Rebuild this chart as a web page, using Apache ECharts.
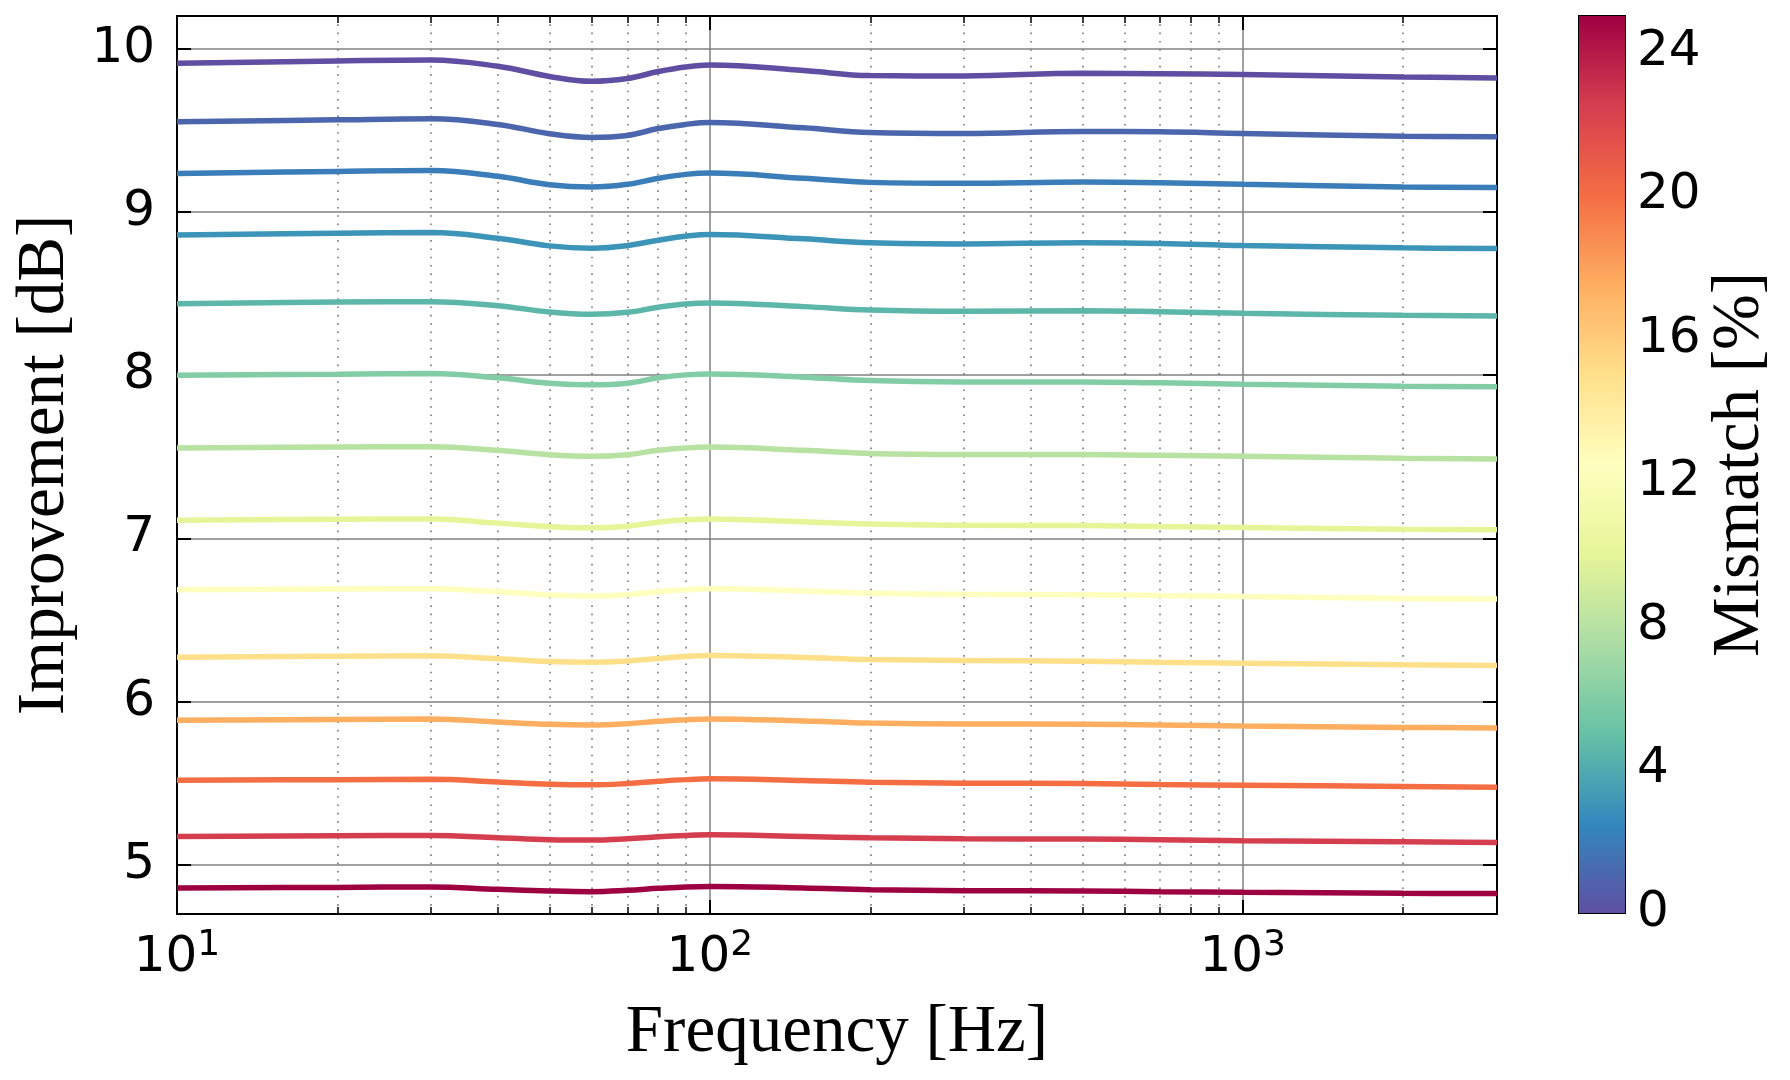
<!DOCTYPE html>
<html>
<head>
<meta charset="utf-8">
<script src="https://cdn.jsdelivr.net/npm/echarts@6/dist/echarts.min.js"></script>
<style>
  html, body { margin: 0; padding: 0; background: #fff; }
  #chart { width: 1790px; height: 1080px; }
</style>
</head>
<body>
<div id="chart"></div>
<script>
// frequencies (Hz) where the curves were read
var freqs = [10, 20, 30, 40, 50, 60, 70, 80, 90, 100, 150, 200, 300, 500, 700, 1000, 2000, 3000];

// mismatch (%) of each curve, top curve first
var mismatch = [0, 1, 2, 3, 4.5, 6, 8, 10, 12.5, 15, 17.5, 20, 22.5, 25];

// improvement (dB), one array per curve
var imp00 = [9.910, 9.925, 9.931, 9.892, 9.830, 9.800, 9.817, 9.860, 9.888, 9.900, 9.866, 9.835, 9.833, 9.849, 9.847, 9.841, 9.827, 9.821];
var imp01 = [9.552, 9.564, 9.570, 9.536, 9.479, 9.456, 9.468, 9.511, 9.536, 9.548, 9.515, 9.487, 9.481, 9.493, 9.491, 9.481, 9.464, 9.460];
var imp02 = [9.236, 9.248, 9.253, 9.218, 9.167, 9.153, 9.169, 9.206, 9.230, 9.238, 9.206, 9.181, 9.175, 9.183, 9.179, 9.169, 9.153, 9.149];
var imp03 = [8.859, 8.870, 8.874, 8.839, 8.792, 8.778, 8.794, 8.827, 8.851, 8.862, 8.835, 8.811, 8.804, 8.811, 8.807, 8.794, 8.780, 8.776];
var imp04 = [8.438, 8.448, 8.450, 8.426, 8.387, 8.373, 8.385, 8.416, 8.436, 8.442, 8.420, 8.399, 8.391, 8.395, 8.389, 8.379, 8.367, 8.363];
var imp05 = [8.000, 8.006, 8.010, 7.984, 7.951, 7.941, 7.951, 7.984, 8.002, 8.008, 7.988, 7.967, 7.959, 7.959, 7.953, 7.945, 7.933, 7.929];
var imp06 = [7.554, 7.560, 7.562, 7.540, 7.513, 7.503, 7.513, 7.540, 7.554, 7.560, 7.540, 7.521, 7.515, 7.515, 7.509, 7.503, 7.491, 7.487];
var imp07 = [7.112, 7.118, 7.120, 7.094, 7.073, 7.065, 7.075, 7.100, 7.114, 7.120, 7.102, 7.088, 7.081, 7.079, 7.073, 7.067, 7.057, 7.053];
var imp08 = [6.686, 6.690, 6.692, 6.674, 6.654, 6.648, 6.656, 6.674, 6.686, 6.692, 6.678, 6.664, 6.658, 6.656, 6.650, 6.644, 6.633, 6.629];
var imp09 = [6.273, 6.279, 6.281, 6.263, 6.246, 6.242, 6.250, 6.265, 6.277, 6.284, 6.271, 6.259, 6.253, 6.248, 6.242, 6.236, 6.226, 6.222];
var imp10 = [5.886, 5.892, 5.894, 5.876, 5.862, 5.858, 5.866, 5.880, 5.890, 5.895, 5.882, 5.870, 5.864, 5.862, 5.857, 5.851, 5.843, 5.839];
var imp11 = [5.519, 5.523, 5.525, 5.509, 5.495, 5.491, 5.499, 5.513, 5.523, 5.528, 5.517, 5.507, 5.501, 5.499, 5.493, 5.489, 5.481, 5.477];
var imp12 = [5.175, 5.179, 5.181, 5.167, 5.155, 5.153, 5.161, 5.173, 5.181, 5.185, 5.175, 5.167, 5.161, 5.159, 5.155, 5.149, 5.143, 5.138];
var imp13 = [4.859, 4.863, 4.866, 4.851, 4.841, 4.837, 4.845, 4.857, 4.866, 4.869, 4.859, 4.849, 4.843, 4.841, 4.837, 4.833, 4.827, 4.825];
var curves = [imp00, imp01, imp02, imp03, imp04, imp05, imp06, imp07, imp08, imp09, imp10, imp11, imp12, imp13];

// tick positions
var xLabels = [10, 100, 1000];
var xMajor = [100, 1000];
var xMinor = [20, 30, 40, 50, 60, 70, 80, 90, 200, 300, 400, 500, 600, 700, 800, 900, 2000];
var yTicks = [5, 6, 7, 8, 9, 10];
var cbTicks = [0, 4, 8, 12, 16, 20, 24];
var cbMax = 25;

// Spectral colormap, reversed (low = purple, high = dark red)
var spectral = ['#5e4fa2', '#3288bd', '#66c2a5', '#abdda4', '#e6f598', '#ffffbf',
                '#fee08b', '#fdae61', '#f46d43', '#d53e4f', '#9e0142'];

function hexRgb(h) {
  return [parseInt(h.substr(1, 2), 16), parseInt(h.substr(3, 2), 16), parseInt(h.substr(5, 2), 16)];
}
function cmap(t) {
  t = Math.max(0, Math.min(1, t));
  var p = t * (spectral.length - 1);
  var i = Math.min(Math.floor(p), spectral.length - 2);
  var f = p - i;
  var a = hexRgb(spectral[i]), b = hexRgb(spectral[i + 1]);
  var c = a.map(function (v, k) { return Math.round(v + (b[k] - v) * f); });
  return 'rgb(' + c.join(',') + ')';
}

var tickFont = 'DejaVu Sans';
var titleFont = 'Liberation Serif';
var majorTick = { inside: true, length: 14, lineStyle: { color: '#000', width: 2 } };
var minorTick = { inside: true, length: 7, lineStyle: { color: '#000', width: 1.5 } };

function logX(opts) {
  return Object.assign({
    type: 'log', logBase: 10, min: 10, max: 3000, gridIndex: 0,
    axisLine: { show: false }, axisLabel: { show: false }, splitLine: { show: false }
  }, opts);
}

var chart = echarts.init(document.getElementById('chart'));

var series = curves.map(function (c, i) {
  var col = cmap(mismatch[i] / cbMax);
  return {
    type: 'line', xAxisIndex: 0, yAxisIndex: 0,
    data: freqs.map(function (f, j) { return [f, c[j]]; }),
    showSymbol: false, smooth: 0.4, silent: true,
    lineStyle: { width: 5.5, color: col }, itemStyle: { color: col }, z: 3
  };
});

// colour bar
series.push({
  type: 'bar', xAxisIndex: 4, yAxisIndex: 2, data: [cbMax], barWidth: '100%', silent: true,
  itemStyle: {
    color: new echarts.graphic.LinearGradient(0, 1, 0, 0, spectral.map(function (c, k) {
      return { offset: k / (spectral.length - 1), color: c };
    }))
  }
});

var option = {
  animation: false,
  backgroundColor: '#fff',
  grid: [
    { left: 177, top: 16, width: 1320, height: 898, show: true, borderColor: '#000', borderWidth: 2, backgroundColor: 'transparent' },
    { left: 1579, top: 16, width: 46, height: 897, show: true, borderColor: '#000', borderWidth: 2, backgroundColor: 'transparent' }
  ],
  xAxis: [
    logX({
      position: 'bottom',
      axisTick: Object.assign({ customValues: xMajor }, majorTick),
      splitLine: { show: true, lineStyle: { color: '#808080', width: 1.5 } },
      axisLabel: {
        show: true, customValues: xLabels, margin: 14,
        formatter: function (v) { return '{b|10}{s|' + Math.round(Math.log10(v)) + '}'; },
        rich: {
          b: { fontFamily: tickFont, fontSize: 50, color: '#000', lineHeight: 60 },
          s: { fontFamily: tickFont, fontSize: 36, color: '#000', lineHeight: 46, verticalAlign: 'top' }
        }
      },
      name: 'Frequency [Hz]', nameLocation: 'middle', nameGap: 86,
      nameTextStyle: { fontFamily: titleFont, fontSize: 67, color: '#000' }
    }),
    logX({
      position: 'bottom',
      axisTick: Object.assign({ customValues: xMinor }, minorTick),
      splitLine: { show: true, lineStyle: { color: '#777', width: 1.6, type: [1.6, 6.7] } }
    }),
    logX({ position: 'top', axisTick: Object.assign({ customValues: xMajor }, majorTick) }),
    logX({ position: 'top', axisTick: Object.assign({ customValues: xMinor }, minorTick) }),
    { type: 'category', gridIndex: 1, data: ['cb'], show: false }
  ],
  yAxis: [
    {
      type: 'value', gridIndex: 0, min: 4.7, max: 10.2, position: 'left',
      axisLine: { show: false },
      axisTick: Object.assign({ customValues: yTicks }, majorTick),
      axisLabel: { customValues: yTicks, fontFamily: tickFont, fontSize: 50, color: '#000', margin: 22 },
      splitLine: { show: true, lineStyle: { color: '#808080', width: 1.5 } },
      name: 'Improvement [dB]', nameLocation: 'middle', nameGap: 98, nameRotate: 90,
      nameTextStyle: { fontFamily: titleFont, fontSize: 67, color: '#000' }
    },
    {
      type: 'value', gridIndex: 0, min: 4.7, max: 10.2, position: 'right',
      axisLine: { show: false }, axisLabel: { show: false }, splitLine: { show: false },
      axisTick: Object.assign({ customValues: yTicks }, majorTick)
    },
    {
      type: 'value', gridIndex: 1, min: 0, max: cbMax, position: 'right',
      axisLine: { show: false }, splitLine: { show: false },
      axisTick: { inside: true, length: 9, customValues: cbTicks, lineStyle: { color: '#000', width: 2 } },
      axisLabel: { customValues: cbTicks, fontFamily: tickFont, fontSize: 50, color: '#000', margin: 12 },
      name: 'Mismatch [%]', nameLocation: 'middle', nameGap: 82, nameRotate: 90,
      nameTextStyle: { fontFamily: titleFont, fontSize: 67, color: '#000' }
    }
  ],
  series: series
};

chart.setOption(option);
</script>
</body>
</html>
